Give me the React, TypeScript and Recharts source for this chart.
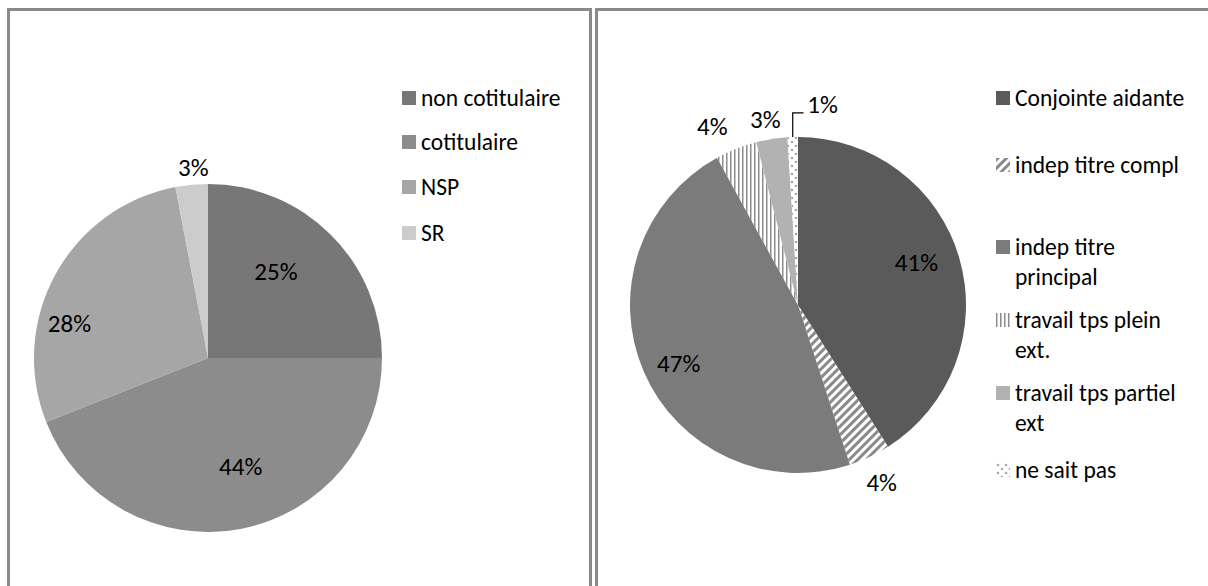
import { Pie, PieChart, Cell } from "recharts";

// left chart: statut du conjoint
const leftNames = ["non cotitulaire", "cotitulaire", "NSP", "SR"];
const leftValues = [25, 44, 28, 3];
const leftFills = ["#777777", "#8c8c8c", "#a6a6a6", "#cccccc"];

// right chart: activité
const rightNames = [
	"Conjointe aidante",
	"indep titre compl",
	"indep titre principal",
	"travail tps plein ext.",
	"travail tps partiel ext",
	"ne sait pas",
];
const rightValues = [41, 4, 47, 4, 3, 1];
const rightFills = ["#5a5a5a", "url(#diag)", "#7b7b7b", "url(#vstripes)", "#b2b2b2", "url(#dots)"];

const leftData = leftNames.map((name, i) => ({ name, value: leftValues[i] }));
const rightData = rightNames.map((name, i) => ({ name, value: rightValues[i] }));

// label placement tweaks (radius as fraction of outer radius, angle shift in degrees)
const leftLabelR = [0.63, 0.65, 0.82, 1.1];
const leftLabelShift = [6.7, 6, 15, -1];
const rightLabelR = [0.75, 1.17, 0.79, 1.18, 1.12, 1.2];
const rightLabelShift = [3.7, 0, 2.6, 4, 1, -8.8];

const leftLegendY = [98, 142, 187, 233];
const rightLegendY = [98, 165, 247, 320, 393, 470];

const FONT = "Carlito, Calibri, Lato, sans-serif";
const RAD = Math.PI / 180;
const noMargin = { top: 0, right: 0, bottom: 0, left: 0 };

function makeLabel(rFrac: number[], shift: number[], leader?: number) {
	return (p: any) => {
		const ang = (p.midAngle + shift[p.index]) * RAD;
		const r = p.outerRadius * rFrac[p.index];
		const x = p.cx + r * Math.cos(ang);
		const y = p.cy - r * Math.sin(ang);
		let line = null;
		if (leader === p.index) {
			const m = p.midAngle * RAD;
			const sx = p.cx + p.outerRadius * Math.cos(m);
			const sy = p.cy - p.outerRadius * Math.sin(m);
			line = (
				<polyline
					points={`${sx},${sy} ${sx},${y + 8} ${x - 19},${y + 8}`}
					fill="none"
					stroke="#000"
					strokeWidth={1.2}
				/>
			);
		}
		return (
			<g key={`lbl-${p.index}`}>
				{line}
				<text
					x={x}
					y={y}
					textAnchor="middle"
					dominantBaseline="central"
					fontFamily={FONT}
					fontSize={25}
					fill="#000"
				>
					{`${p.value}%`}
				</text>
			</g>
		);
	};
}

function Legend({ names, fills, ys, x, width }: { names: string[]; fills: string[]; ys: number[]; x: number; width: number }) {
	return (
		<>
			{names.map((n, i) => (
				<div
					key={n}
					style={{
						position: "absolute",
						left: x,
						top: ys[i] - 15,
						width,
						display: "flex",
						alignItems: "flex-start",
						fontFamily: FONT,
						fontSize: 23.5,
						lineHeight: "30px",
						color: "#000",
					}}
				>
					<svg width={14} height={14} style={{ marginTop: 8, marginRight: 5, flexShrink: 0 }}>
						<rect width={14} height={14} fill={fills[i]} />
					</svg>
					<span>{n}</span>
				</div>
			))}
		</>
	);
}

function Patterns() {
	return (
		<>
			<pattern id="diag" width={6} height={6} patternUnits="userSpaceOnUse" patternTransform="rotate(45)">
				<rect width={6} height={6} fill="#fff" />
				<rect width={3} height={6} fill="#8a8a8a" />
			</pattern>
			<pattern id="vstripes" width={4} height={4} patternUnits="userSpaceOnUse">
				<rect width={4} height={4} fill="#fff" />
				<rect width={1.5} height={4} fill="#8c8c8c" />
			</pattern>
			<pattern id="dots" width={8} height={8} patternUnits="userSpaceOnUse">
				<rect width={8} height={8} fill="#fff" />
				<circle cx={2} cy={2} r={1.3} fill="#a8a8a8" />
				<circle cx={6} cy={6} r={1.3} fill="#a8a8a8" />
			</pattern>
		</>
	);
}

const panelStyle = {
	position: "absolute" as const,
	top: 8,
	height: 700,
	border: "3px solid #8a8a8a",
	boxSizing: "border-box" as const,
	background: "#fff",
};

export default function App() {
	return (
		<div
			style={{
				position: "absolute",
				left: 0,
				top: 0,
				width: 1208,
				height: 586,
				overflow: "hidden",
				background: "#fff",
			}}
		>
			<svg width={0} height={0} style={{ position: "absolute" }}>
				<defs>
					<Patterns />
				</defs>
			</svg>
			<div style={{ ...panelStyle, left: 7, width: 585 }} />
			<div style={{ ...panelStyle, left: 595, width: 700 }} />

			<div style={{ position: "absolute", left: 0, top: 0 }}>
				<PieChart width={594} height={586} margin={noMargin}>
					<Pie
						data={leftData}
						dataKey="value"
						nameKey="name"
						cx={208}
						cy={358}
						outerRadius={174}
						startAngle={90}
						endAngle={-270}
						stroke="none"
						label={makeLabel(leftLabelR, leftLabelShift)}
						labelLine={false}
						isAnimationActive={false}
					>
						{leftData.map((d, i) => (
							<Cell key={d.name} fill={leftFills[i]} />
						))}
					</Pie>
				</PieChart>
			</div>

			<div style={{ position: "absolute", left: 594, top: 0 }}>
				<PieChart width={614} height={586} margin={noMargin}>
					<Pie
						data={rightData}
						dataKey="value"
						nameKey="name"
						cx={204}
						cy={305}
						outerRadius={168}
						startAngle={90}
						endAngle={-270}
						stroke="none"
						label={makeLabel(rightLabelR, rightLabelShift, 5)}
						labelLine={false}
						isAnimationActive={false}
					>
						{rightData.map((d, i) => (
							<Cell key={d.name} fill={rightFills[i]} />
						))}
					</Pie>
				</PieChart>
			</div>

			<Legend names={leftNames} fills={leftFills} ys={leftLegendY} x={402} width={185} />
			<Legend names={rightNames} fills={rightFills} ys={rightLegendY} x={996} width={200} />
		</div>
	);
}
